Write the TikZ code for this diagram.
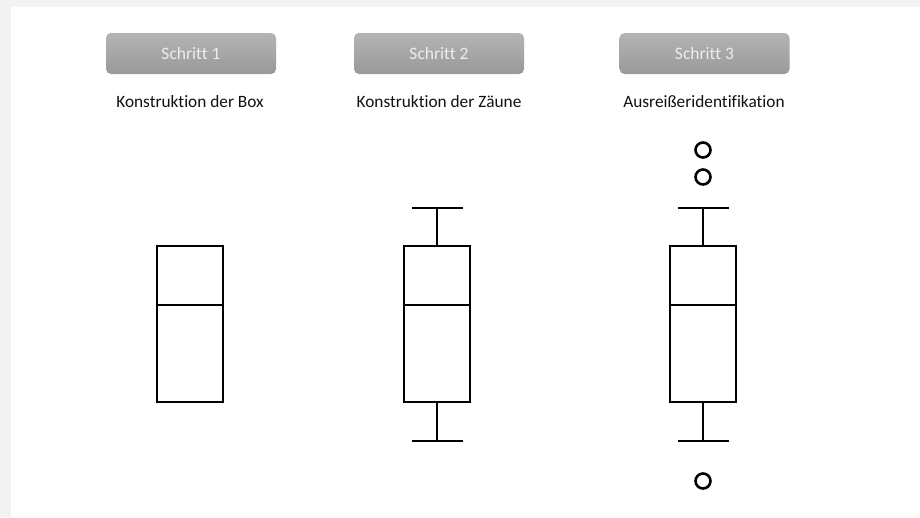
\documentclass[tikz,border=0pt]{standalone}
\usepackage{fontspec}
\setmainfont{Carlito}[Ligatures={NoCommon}]
\definecolor{bgframe}{HTML}{F3F3F3}
\definecolor{btntop}{HTML}{B4B4B4}
\definecolor{btnbot}{HTML}{999999}
\definecolor{btntext}{HTML}{EDEDED}
\definecolor{lbltext}{HTML}{111111}
\begin{document}
\begin{tikzpicture}[x=1pt,y=-1pt,
  stepbtn/.style={rectangle, rounded corners=5pt, top color=btntop, bottom color=btnbot,
    draw=none, minimum width=170pt, minimum height=41pt, inner sep=0pt,
    text=btntext, font=\fontsize{17.5}{19}\selectfont},
  steplbl/.style={text=lbltext, font=\fontsize{17.3}{19}\selectfont, inner sep=0pt},
  bxp/.style={rectangle, draw=black, line width=2.9pt, fill=white,
    minimum width=66pt, minimum height=156pt, inner sep=0pt},
  plotline/.style={draw=black, line width=2.9pt},
  outl/.style={circle, draw=black, line width=2.6pt, minimum size=15pt, inner sep=0pt}
]
\useasboundingbox (0,0) rectangle (920,517);
\fill[bgframe] (0,0) rectangle (920,517);
\fill[white] (11,7) rectangle (920,517);

% step buttons
\node[stepbtn] (s1) at (191,53.5) {Schritt 1};
\node[stepbtn] (s2) at (439,53.5) {Schritt 2};
\node[stepbtn] (s3) at (704.5,53.5) {Schritt 3};

% labels
\node[steplbl] (l1) at (190,102) {Konstruktion der Box};
\node[steplbl] (l2) at (439,102) {Konstruktion der Zäune};
\node[steplbl] (l3) at (704,102) {Ausreißeridentifikation};

% boxes
\node[bxp] (b1) at (190,324) {};
\node[bxp] (b2) at (437,324) {};
\node[bxp] (b3) at (703,324) {};

% medians
\coordinate (m1) at (190,305);
\coordinate (m2) at (437,305);
\coordinate (m3) at (703,305);
\draw[plotline] (b1.west |- m1) -- (b1.east |- m1);
\draw[plotline] (b2.west |- m2) -- (b2.east |- m2);
\draw[plotline] (b3.west |- m3) -- (b3.east |- m3);

% whiskers
\coordinate (w2t) at (437,208);
\coordinate (w2b) at (437,441);
\coordinate (w3t) at (703,208);
\coordinate (w3b) at (703,441);
\foreach \w/\b in {w2t/b2.north, w2b/b2.south, w3t/b3.north, w3b/b3.south}{
  \draw[plotline] (\b) -- (\w);
  \draw[plotline] ([xshift=-25.5pt]\w) -- ([xshift=25.5pt]\w);
}

% outliers
\node[outl] (o1) at (703,150) {};
\node[outl] (o2) at (703,177) {};
\node[outl] (o3) at (703,481) {};
\end{tikzpicture}
\end{document}
